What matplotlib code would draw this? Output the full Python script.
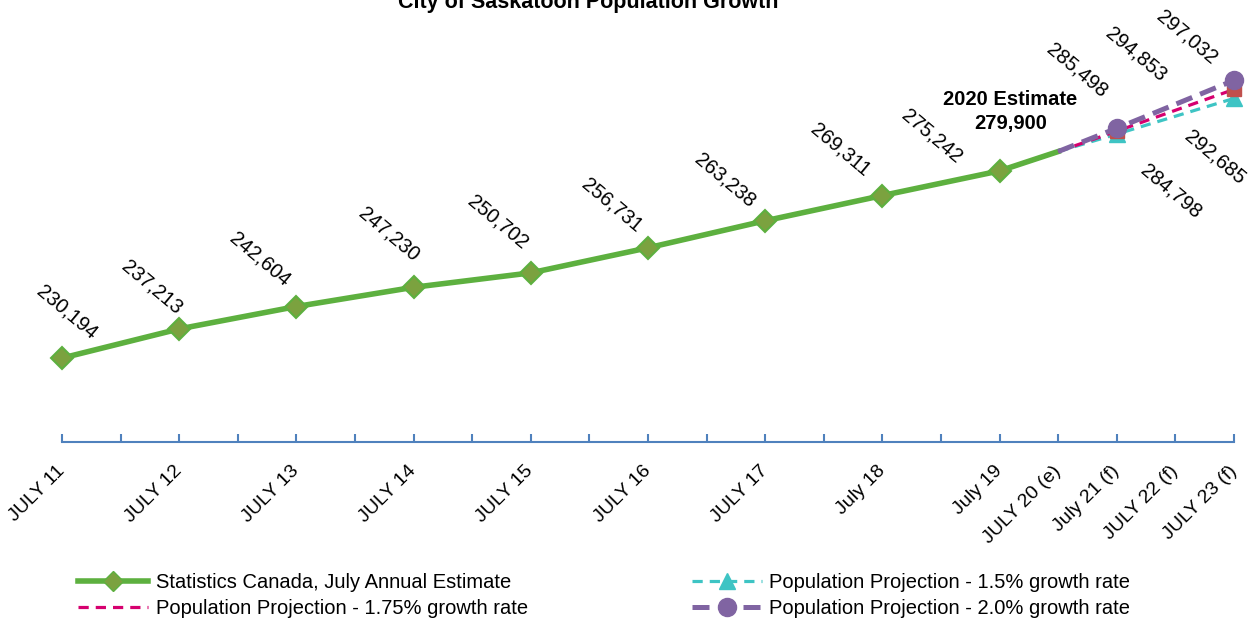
import matplotlib.pyplot as plt
from matplotlib.lines import Line2D

plt.rcParams['font.family'] = ['Liberation Sans Narrow', 'Liberation Sans', 'DejaVu Sans']

# category axis (one slot per half year, blank slots between the annual points)
tick_labels = ['JULY 11', '', 'JULY 12', '', 'JULY 13', '', 'JULY 14', '', 'JULY 15', '',
               'JULY 16', '', 'JULY 17', '', 'July 18', '', 'July 19',
               'JULY 20 (e)', 'July 21 (f)', 'JULY 22 (f)', 'JULY 23 (f)']

stats = [230194, None, 237213, None, 242604, None, 247230, None, 250702, None,
         256731, None, 263238, None, 269311, None, 275242, 279900, None, None, None]
proj_150 = [None] * 17 + [279900, 284099, None, 292685]
proj_175 = [None] * 17 + [279900, 284798, None, 294853]
proj_200 = [None] * 17 + [279900, 285498, None, 297032]

def pts(series):
    xs = [i for i, v in enumerate(series) if v is not None]
    ys = [v for v in series if v is not None]
    return xs, ys

fig = plt.figure(figsize=(12.54, 6.25), dpi=100)
ax = fig.add_axes([62 / 1254, 183 / 625, 1172 / 1254, 374 / 625])

green = '#5DB03F'
blue = '#4F81BD'
purple = '#8064A2'
magenta = '#D6006F'
cyan = '#3EC4C4'
red_sq = '#C0504D'

sx, sy = pts(stats)
ax.plot(sx, sy, color=green, lw=4, zorder=3, clip_on=False)
ax.plot(sx[:-1], sy[:-1], ls='none', marker='D', ms=11, mfc='#7BA23F',
        mec=green, mew=1.5, zorder=4, clip_on=False)

cx, cy = pts(proj_150)
ax.plot(cx, cy, color=cyan, lw=2.3, dashes=(3.2, 2.2), zorder=5, clip_on=False)
ax.plot(cx[1:], cy[1:], ls='none', marker='^', ms=11, color=cyan, zorder=6, clip_on=False)

rx, ry = pts(proj_175)
ax.plot(rx, ry, color=magenta, lw=2.3, dashes=(3.2, 2.2), zorder=7, clip_on=False)
ax.plot(rx[1:], ry[1:], ls='none', marker='s', ms=10, color=red_sq, zorder=8, clip_on=False)

px, py = pts(proj_200)
ax.plot(px, py, color=purple, lw=3.6, dashes=(3.4, 1.7), zorder=9, clip_on=False)
ax.plot(px[1:], py[1:], ls='none', marker='o', ms=13, color=purple, zorder=10, clip_on=False)

ax.set_xlim(0, 20)
ax.set_ylim(210000, 300000)
ax.set_yticks([])
for s in ['top', 'left', 'right']:
    ax.spines[s].set_visible(False)
ax.spines['bottom'].set_color(blue)
ax.spines['bottom'].set_linewidth(1.5)
ax.set_xticks(range(len(tick_labels)))
ax.set_xticklabels(tick_labels, rotation=45, ha='right', va='center',
                   rotation_mode='anchor', fontsize=14)
ax.tick_params(axis='x', direction='in', length=6, width=1.5, color=blue, pad=19)

# data labels (offsets in pixels, y up)
label_offsets = {0: (5, 46), 2: (-27, 42), 4: (-36, 47), 6: (-25, 53), 8: (-33, 51),
                 10: (-36, 43), 12: (-40, 41), 14: (-42, 46), 16: (-68, 35)}
for i, v in enumerate(stats):
    if i in label_offsets:
        dx, dy = label_offsets[i]
        ax.annotate(f'{v:,}', (i, v), xytext=(dx * 0.72, dy * 0.72), textcoords='offset points',
                    rotation=-40, ha='center', va='center', fontsize=14.5, zorder=12)

proj_labels = [(proj_200, 18, (-40, 58)), (proj_175, 18, (54, -60)),
               (proj_175, 20, (-98, 35)), (proj_200, 20, (-47, 43)),
               (proj_150, 20, (-19, -59))]
for series, i, (dx, dy) in proj_labels:
    ax.annotate(f'{series[i]:,}', (i, series[i]), xytext=(dx * 0.72, dy * 0.72),
                textcoords='offset points', rotation=-40, ha='center', va='center',
                fontsize=14.5, zorder=12)

ax.annotate(f'2020 Estimate\n{stats[17]:,}', (17, stats[17]), xytext=(-48 * 0.72, 40 * 0.72),
            textcoords='offset points', ha='center', va='center', fontsize=14.5,
            fontweight='bold', linespacing=1.3, zorder=12)

fig.text(588 / 1254, 1 - 8 / 625, 'City of Saskatoon Population Growth', ha='center',
         va='baseline', fontsize=15.5, fontweight='bold')

handles = [
    Line2D([], [], color=green, lw=4, marker='D', ms=10, mfc='#7BA23F', mec=green),
    Line2D([], [], color=magenta, lw=2.3, dashes=(3.2, 2.2)),
    Line2D([], [], color=cyan, lw=2.3, dashes=(3.2, 2.2), marker='^', ms=11),
    Line2D([], [], color=purple, lw=3.6, dashes=(3.4, 1.7), marker='o', ms=13),
]
names = ['Statistics Canada, July Annual Estimate',
         'Population Projection - 1.75% growth rate',
         'Population Projection - 1.5% growth rate',
         'Population Projection - 2.0% growth rate']
fig.legend(handles, names, ncol=2, loc='lower left', bbox_to_anchor=(78 / 1254, 7 / 625),
           frameon=False, fontsize=14.5, handlelength=3.5, handletextpad=0.35,
           columnspacing=8.15, labelspacing=0.35, borderpad=0, borderaxespad=0)

fig.savefig('out.png', dpi=100)
